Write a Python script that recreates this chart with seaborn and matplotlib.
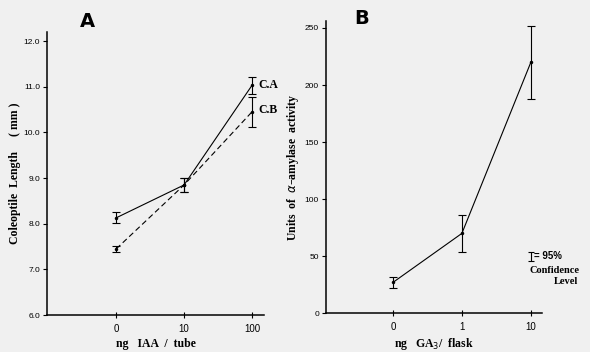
import pandas as pd
import matplotlib.pyplot as plt
import seaborn as sns
import numpy as np

# panel A: coleoptile length vs IAA
iaa_doses = ["0", "10", "100"]
ca_mean = [8.13, 8.85, 11.03]
ca_err = [0.12, 0.15, 0.19]
cb_mean = [7.45, 8.85, 10.45]
cb_err = [0.06, 0.15, 0.33]

# panel B: alpha-amylase vs GA3
ga_doses = ["0", "1", "10"]
amy_mean = [27, 70, 220]
amy_err = [5, 16, 32]

sns.set_theme(style="ticks")
plt.rcParams["font.family"] = ["Liberation Sans", "DejaVu Sans"]
plt.rcParams["text.color"] = "black"
plt.rcParams["axes.labelcolor"] = "black"
bg = "#f0f0f0"

fig = plt.figure(figsize=(5.9, 3.52), dpi=100, facecolor=bg)
axA = fig.add_axes([0.0797, 0.105, 0.368, 0.804], facecolor=bg)
axB = fig.add_axes([0.5525, 0.110, 0.366, 0.830], facecolor=bg)

lab_font = dict(family="Liberation Serif", fontweight="bold", fontsize=8.5)

# --- A ---
dfA = pd.DataFrame({
    "pos": list(range(3)) * 2,
    "len": ca_mean + cb_mean,
    "err": ca_err + cb_err,
    "serie": ["C.A"] * 3 + ["C.B"] * 3,
})
sns.lineplot(data=dfA, x="pos", y="len", style="serie", dashes={"C.A": "", "C.B": (5, 3)},
             color="black", lw=0.8, marker="o", markersize=2.5, markeredgewidth=0,
             legend=False, ax=axA)
for s, g in dfA.groupby("serie"):
    axA.errorbar(g["pos"], g["len"], yerr=g["err"], fmt="none", ecolor="black",
                 elinewidth=0.8, capsize=3, capthick=0.8)
axA.text(2.09, ca_mean[2], "C.A", ha="left", va="center", **lab_font)
axA.text(2.09, cb_mean[2] + 0.05, "C.B", ha="left", va="center", **lab_font)

axA.set_xlim(-1.02, 2.18)
axA.set_ylim(6.0, 12.2)
axA.set_yticks(np.arange(6, 12.1, 1.0))
axA.set_yticklabels([f"{v:.1f}" for v in np.arange(6, 12.1, 1.0)])
axA.set_xticks(range(3))
axA.set_xticklabels(iaa_doses)
axA.set_xlabel("ng   IAA  /  tube", labelpad=3, **lab_font)
axA.set_ylabel("Coleoptile  Length     ( mm )", labelpad=2, **lab_font)
axA.text(0.15, 1.005, "A", transform=axA.transAxes, fontsize=14, fontweight="bold",
         ha="left", va="bottom", family="DejaVu Sans")

# --- B ---
dfB = pd.DataFrame({"pos": range(3), "amy": amy_mean, "err": amy_err})
sns.lineplot(data=dfB, x="pos", y="amy", color="black", lw=0.8, marker="o",
             markersize=2.5, markeredgewidth=0, ax=axB)
axB.errorbar(dfB["pos"], dfB["amy"], yerr=dfB["err"], fmt="none", ecolor="black",
             elinewidth=0.8, capsize=3, capthick=0.8)
axB.set_xlim(-0.97, 2.16)
axB.set_ylim(0, 256)
axB.set_yticks(range(0, 251, 50))
axB.set_xticks(range(3))
axB.set_xticklabels(ga_doses)
axB.set_xlabel("ng   GA$_3$/  flask", labelpad=3, **lab_font)
axB.set_ylabel("Units  of  $\\alpha$\u2013amylase  activity", labelpad=3, **lab_font)
axB.text(0.13, 0.975, "B", transform=axB.transAxes, fontsize=14, fontweight="bold",
         ha="left", va="bottom", family="DejaVu Sans")

# confidence key
axB.errorbar([2.0], [50], yerr=[4], fmt="none", ecolor="black", elinewidth=0.8,
             capsize=2.5, capthick=0.8, clip_on=False)
axB.text(2.05, 50, "= 95%", ha="left", va="center", fontsize=7, fontweight="bold")
axB.text(2.71, 37.5, "Confidence", ha="right", va="center",
         **{**lab_font, "fontsize": 7.5})
axB.text(2.68, 28, "Level", ha="right", va="center", **{**lab_font, "fontsize": 7.5})

for ax in (axA, axB):
    sns.despine(ax=ax)
    for sp in ("left", "bottom"):
        ax.spines[sp].set_linewidth(1.1)
        ax.spines[sp].set_color("black")
    ax.tick_params(axis="y", direction="out", length=3, width=0.8, labelsize=6, pad=2,
                   colors="black")
    ax.tick_params(axis="x", direction="inout", length=5, width=0.8, labelsize=7, pad=4,
                   colors="black")
    ax.set_facecolor(bg)

fig.savefig("out.png", dpi=100, facecolor=bg)
